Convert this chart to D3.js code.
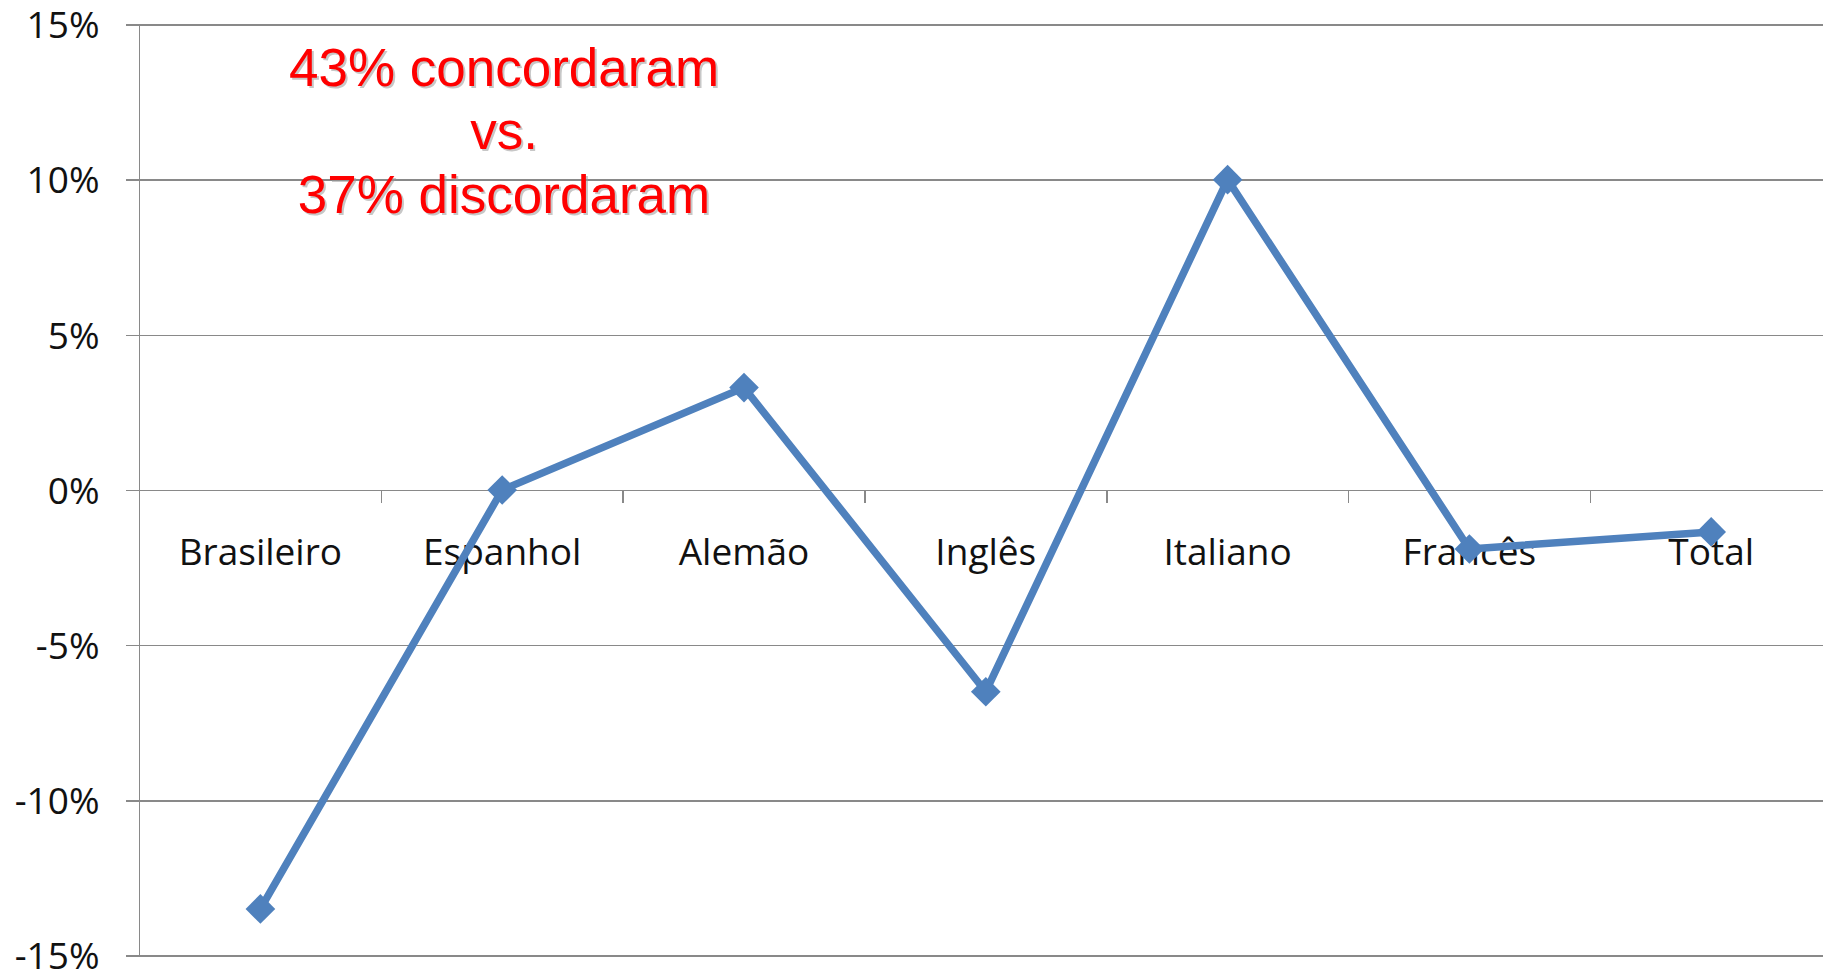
<!DOCTYPE html>
<html>
<head>
<meta charset="utf-8">
<script src="https://cdn.jsdelivr.net/npm/d3@7"></script>
<style>
  html, body { margin: 0; padding: 0; background: #fff; overflow: hidden; }
  svg { display: block; }
</style>
</head>
<body>
<svg id="chart" width="1823" height="970"></svg>
<script>
// ---- data ----
const categories = ["Brasileiro", "Espanhol", "Alemão", "Inglês", "Italiano", "Francês", "Total"];
const values = [-13.5, 0, 3.3, -6.5, 10, -1.9, -1.35];
const yTicks = [-15, -10, -5, 0, 5, 10, 15];
const annotationLines = ["43% concordaram", "vs.", "37% discordaram"];

// ---- layout ----
const W = 1823, H = 970;
const plotLeft = 139.5, plotTop = 24.5, plotBottom = 955.5;
const bandW = 241.8;
const svg = d3.select("#chart");

const x = d3.scaleBand().domain(categories).range([plotLeft, plotLeft + bandW * categories.length]).padding(0);
const y = d3.scaleLinear().domain([-15, 15]).range([plotBottom, plotTop]);

const gridColor = "#898989";
const fontTick = "'Open Sans', sans-serif";

// y axis with gridlines
const yAxis = d3.axisLeft(y).tickValues(yTicks).tickFormat(d => d + "%").tickSizeOuter(0);
const gy = svg.append("g").attr("transform", `translate(${plotLeft},0)`).call(yAxis);
gy.select(".domain").remove();
gy.selectAll(".tick line")
  .attr("x1", -13.5).attr("x2", W - plotLeft)
  .attr("stroke", gridColor).attr("stroke-width", 1.6)
  .attr("shape-rendering", "crispEdges");
gy.selectAll(".tick text")
  .attr("x", -40).attr("dy", "0.36em")
  .attr("fill", "#111").attr("font-family", fontTick).attr("font-size", 37)
  .attr("text-anchor", "end");

// vertical axis line
svg.append("line")
  .attr("x1", plotLeft).attr("x2", plotLeft).attr("y1", y(15)).attr("y2", y(-15))
  .attr("stroke", gridColor).attr("stroke-width", 1.6).attr("shape-rendering", "crispEdges");

// category axis at 0%
const y0 = y(0);
const gx = svg.append("g");
gx.selectAll("line.cat-tick")
  .data(categories)
  .join("line")
  .attr("class", "cat-tick")
  .attr("x1", d => x(d)).attr("x2", d => x(d))
  .attr("y1", y0).attr("y2", y0 + 13)
  .attr("stroke", gridColor).attr("stroke-width", 1.6).attr("shape-rendering", "crispEdges");
gx.selectAll("text.cat-label")
  .data(categories)
  .join("text")
  .attr("class", "cat-label")
  .attr("x", d => x(d) + x.bandwidth() / 2)
  .attr("y", y0 + 75)
  .attr("text-anchor", "middle")
  .attr("fill", "#111").attr("font-family", fontTick).attr("font-size", 37)
  .text(d => d);

// line series
const line = d3.line().x((d, i) => x(categories[i]) + x.bandwidth() / 2).y(d => y(d));
svg.append("path")
  .datum(values)
  .attr("d", line)
  .attr("fill", "none")
  .attr("stroke", "#4F81BD")
  .attr("stroke-width", 7.5)
  .attr("stroke-linejoin", "round");

const diamond = d3.symbol().type(d3.symbolSquare).size(440);
svg.selectAll("path.marker")
  .data(values)
  .join("path")
  .attr("class", "marker")
  .attr("d", diamond)
  .attr("transform", (d, i) => `translate(${x(categories[i]) + x.bandwidth() / 2},${y(d)}) rotate(45)`)
  .attr("fill", "#4F81BD");

// annotation
const ann = svg.append("g");
const baselines = [86, 149, 213];
annotationLines.forEach((t, i) => {
  ann.append("text")
    .attr("x", 504 + 2).attr("y", baselines[i] + 2)
    .attr("text-anchor", "middle")
    .attr("font-family", "'Liberation Sans', Arial, sans-serif")
    .attr("font-size", 53)
    .attr("fill", "#9a9a9a").attr("opacity", 0.55)
    .text(t);
  ann.append("text")
    .attr("x", 504).attr("y", baselines[i])
    .attr("text-anchor", "middle")
    .attr("font-family", "'Liberation Sans', Arial, sans-serif")
    .attr("font-size", 53)
    .attr("fill", "#FF0000")
    .text(t);
});
</script>
</body>
</html>
